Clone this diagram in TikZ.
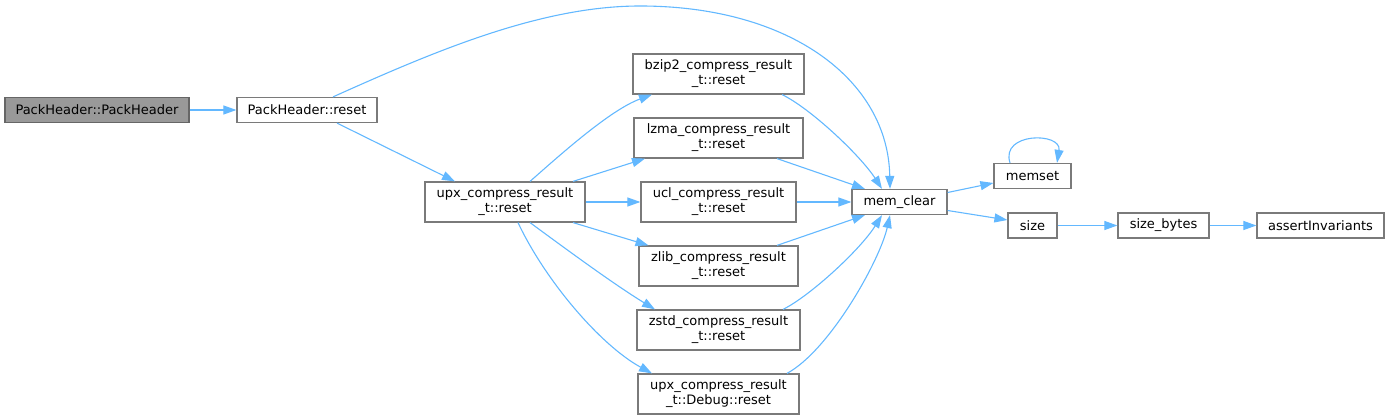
\documentclass[tikz,border=0pt]{standalone}
\usepackage{fontspec}
\setmainfont{DejaVu Sans}
\usetikzlibrary{arrows.meta}
\definecolor{edgeblue}{HTML}{63B8FF}
\definecolor{boxgray}{HTML}{7A7A7A}
\definecolor{rootgray}{HTML}{999999}
\begin{document}
\begin{tikzpicture}[x=1pt,y=-1pt,
  fn/.style={draw=boxgray,line width=1.2pt,fill=white,inner sep=0pt,
    minimum height=25pt,align=center,font=\fontsize{13}{15}\selectfont},
  fntwo/.style={fn,minimum height=40pt},
  root/.style={fn,fill=rootgray,draw=black!60},
  call/.style={draw=edgeblue,line width=1.1pt,
    -{Triangle[length=13pt,width=9pt]}}]

\useasboundingbox (0,0) rectangle (1389,419);

% Noeuds
\node[root,minimum width=184pt] (pkhdr) at (97,110) {PackHeader::PackHeader};
\node[fn,minimum width=140pt] (pkreset) at (307,110) {PackHeader::reset};
\node[fntwo,minimum width=160pt] (upx) at (505,202) {upx\_compress\_result\\\_t::reset};

\node[fntwo,minimum width=171pt] (bzip) at (718.5,74) {bzip2\_compress\_result\\\_t::reset};
\node[fntwo,minimum width=169pt] (lzma) at (718.5,138) {lzma\_compress\_result\\\_t::reset};
\node[fntwo,minimum width=155pt] (ucl) at (718.5,202) {ucl\_compress\_result\\\_t::reset};
\node[fntwo,minimum width=159pt] (zlib) at (718.5,266) {zlib\_compress\_result\\\_t::reset};
\node[fntwo,minimum width=163pt] (zstd) at (718.5,330) {zstd\_compress\_result\\\_t::reset};
\node[fntwo,minimum width=161pt] (debug) at (718.5,394) {upx\_compress\_result\\\_t::Debug::reset};

\node[fn,minimum width=95pt] (memclear) at (899.5,202) {mem\_clear};
\node[fn,minimum width=77pt] (memset) at (1032.5,176) {memset};
\node[fn,minimum width=49pt] (size) at (1032.5,225.5) {size};
\node[fn,minimum width=91pt] (sizebytes) at (1163.5,225.5) {size\_bytes};
\node[fn,minimum width=127pt] (assertinv) at (1320.5,225.5) {assertInvariants};

% Appels
\draw[call] (pkhdr) -- (pkreset);
\draw[call] ([xshift=26pt]pkreset.north)
  .. controls (433,52) and (540,6) .. (640,6)
  .. controls (790,6) and (888,80) .. ([xshift=-9.5pt]memclear.north);
\draw[call] ([xshift=30pt]pkreset.south) -- ([xshift=-50pt]upx.north);

\draw[call] ([xshift=25pt]upx.north)
  .. controls (560,155) and (610,110) .. ([xshift=-66.5pt]bzip.south);
\draw[call] ([xshift=68pt]upx.north) -- ([xshift=-73.5pt]lzma.south);
\draw[call] (upx.east) -- (ucl.west);
\draw[call] ([xshift=68pt]upx.south) -- ([xshift=-70pt]zlib.north);
\draw[call] ([xshift=25pt]upx.south)
  .. controls (570,252) and (615,285) .. ([xshift=-63.5pt]zstd.north);
\draw[call] ([xshift=13pt]upx.south)
  .. controls (545,280) and (600,345) .. ([xshift=-66.5pt]debug.north);

\draw[call] ([xshift=63.5pt]bzip.south)
  .. controls (810,108) and (860,155) .. ([xshift=-17.5pt]memclear.north);
\draw[call] ([xshift=58.5pt]lzma.south) -- ([xshift=-34.5pt]memclear.north);
\draw[call] (ucl.east) -- (memclear.west);
\draw[call] ([xshift=58.5pt]zlib.north) -- ([xshift=-34.5pt]memclear.south);
\draw[call] ([xshift=64.5pt]zstd.north)
  .. controls (810,296) and (860,250) .. ([xshift=-17.5pt]memclear.south);
\draw[call] ([xshift=68.5pt]debug.north)
  .. controls (830,350) and (880,260) .. ([xshift=-9.5pt]memclear.south);

\draw[call] ([yshift=9.5pt]memclear.east) -- ([yshift=-7pt]memset.west);
\draw[call] ([xshift=-22.5pt]memset.north)
  .. controls (1000,132) and (1062,132) .. ([xshift=24.5pt]memset.north);
\draw[call] ([yshift=-8.5pt]memclear.east) -- ([yshift=5.5pt]size.west);
\draw[call] (size) -- (sizebytes);
\draw[call] (sizebytes) -- (assertinv);

\end{tikzpicture}
\end{document}
